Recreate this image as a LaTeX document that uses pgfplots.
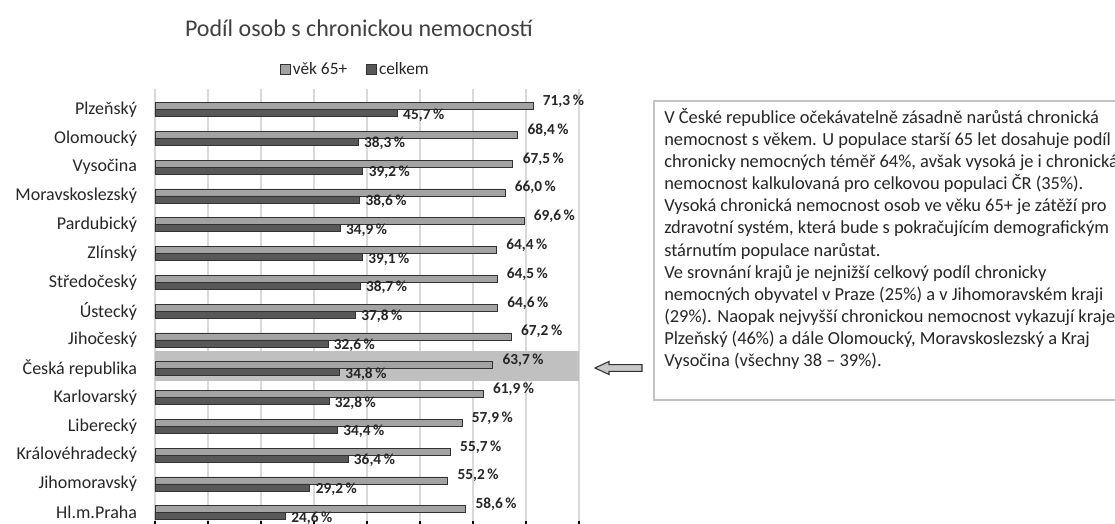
\documentclass[border=0pt]{standalone}
\usepackage{fontspec}
\setmainfont{Carlito}
\usepackage{pgfplots}
\usepackage{pgfplotstable}
\pgfplotsset{compat=1.18}
\definecolor{vekc}{RGB}{163,163,163}
\definecolor{celkc}{RGB}{88,88,88}
\definecolor{edgec}{RGB}{50,50,50}
\definecolor{bandc}{RGB}{192,192,192}
\definecolor{gridc}{RGB}{217,217,217}
\definecolor{txtc}{RGB}{38,38,38}
\definecolor{titlec}{RGB}{64,64,64}
\definecolor{boxc}{RGB}{195,195,195}
\definecolor{arrowc}{RGB}{200,200,200}

% 0 = Hl.m.Praha (bottom) ... 14 = Plzensky (top)
\pgfplotstableread{
idx vek celkem
0 58.6 24.6
1 55.2 29.2
2 55.7 36.4
3 57.9 34.4
4 61.9 32.8
5 63.7 34.8
6 67.2 32.6
7 64.6 37.8
8 64.5 38.7
9 64.4 39.1
10 69.6 34.9
11 66.0 38.6
12 67.5 39.2
13 68.4 38.3
14 71.3 45.7
}\kraje

\begin{document}
\begin{tikzpicture}[x=0.75pt,y=0.75pt]
\useasboundingbox (0,0) rectangle (1115,524);

\node[font=\fontsize{18}{20}\selectfont, text=titlec, anchor=base] at (359,487) {Podíl osob s chronickou nemocností};

\begin{axis}[
    at={(116.25pt,2.475pt)}, anchor=south west,
    scale only axis, width=318pt, height=324pt,
    xbar, bar width=5.25pt,
    xmin=0, xmax=80, ymin=-0.28, ymax=14.72,
    xtick={0,10,...,80}, xticklabels={},
    xtick pos=bottom,
    xmajorgrids, grid style={gridc, line width=0.8pt},
    ytick={0,...,14},
    yticklabels={Hl.m.Praha, Jihomoravský, Královéhradecký, Liberecký, Karlovarský, Česká republika, Jihočeský, Ústecký, Středočeský, Zlínský, Pardubický, Moravskoslezský, Vysočina, Olomoucký, Plzeňský},
    axis line style={draw=none},
    tick align=outside,
    major tick length=10pt,
    xtick style={black, line width=2pt},
    ytick style={draw=none},
    yticklabel style={font=\fontsize{13.5}{16}\selectfont, text=txtc},
    legend style={at={(0.473,1.0456)}, anchor=center, draw=none, legend columns=2,
      font=\fontsize{13}{15}\selectfont, text=txtc,
      /tikz/every even column/.append style={column sep=12pt}},
    legend image code/.code={\draw[#1] (0pt,-3.75pt) rectangle (7.5pt,3.75pt);},
    nodes near coords={\pgfmathprintnumber[fixed,fixed zerofill,precision=1,use comma,assume math mode=true]{\pgfplotspointmeta}\,\%},
    nodes near coords align={horizontal},
  ]
  \fill[bandc] (axis cs:0,4.57) rectangle (axis cs:80,5.6);
  \addplot[fill=vekc, draw=edgec, bar shift=2.625pt,
    every node near coord/.append style={font=\bfseries\fontsize{11.5}{13}\selectfont, text=txtc, anchor=west, xshift=4pt, yshift=3.5pt}]
    table[x=vek, y=idx] {\kraje};
  \addplot[fill=celkc, draw=edgec, bar shift=-2.625pt,
    every node near coord/.append style={font=\bfseries\fontsize{11.5}{13}\selectfont, text=txtc, anchor=west, xshift=1pt, yshift=-1.5pt}]
    table[x=celkem, y=idx] {\kraje};
  \legend{věk 65+, celkem}
\end{axis}

% arrow pointing at Ceska republika
\draw[edgec, fill=arrowc, line width=0.8pt] (595,156) -- (609,162.5) -- (609,159.3) -- (642,159.3)
  -- (642,152.7) -- (609,152.7) -- (609,149.5) -- cycle;

% comment box
\draw[boxc, fill=white, line width=0.8pt] (654,423) rectangle (1130,124);
\node[anchor=base west, inner sep=0pt, text=txtc] at (664,400.7) {%
\begin{minipage}[t]{500pt}\fontsize{13.8}{16.6}\selectfont\raggedright
V České republice očekávatelně zásadně narůstá chronická\\
nemocnost s věkem. U populace starší 65 let dosahuje podíl\\
chronicky nemocných téměř 64\%, avšak vysoká je i chronická\\
nemocnost kalkulovaná pro celkovou populaci ČR (35\%).\\
Vysoká chronická nemocnost osob ve věku 65+ je zátěží pro\\
zdravotní systém, která bude s pokračujícím demografickým\\
stárnutím populace narůstat.\\
Ve srovnání krajů je nejnižší celkový podíl chronicky\\
nemocných obyvatel v Praze (25\%) a v Jihomoravském kraji\\
(29\%). Naopak nejvyšší chronickou nemocnost vykazují kraje\\
Plzeňský (46\%) a dále Olomoucký, Moravskoslezský a Kraj\\
Vysočina (všechny 38 \textendash{} 39\%).
\end{minipage}};
\end{tikzpicture}
\end{document}
